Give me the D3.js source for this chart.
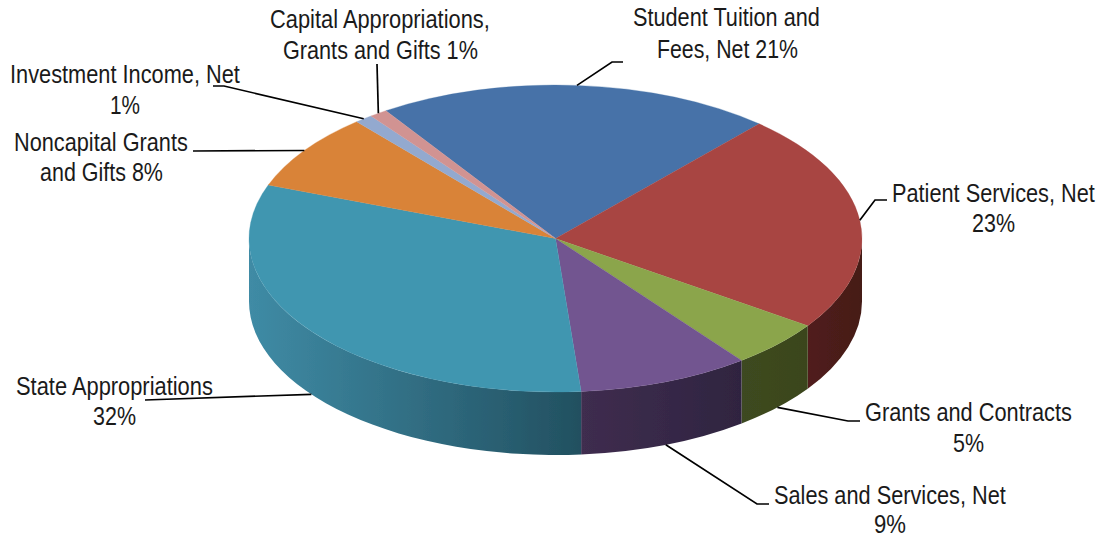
<!DOCTYPE html>
<html>
<head>
<meta charset="utf-8">
<script src="https://d3js.org/d3.v7.min.js"></script>
<style>
html, body { margin: 0; padding: 0; background: #fff; }
svg { display: block; }
text { font-family: "Liberation Sans", Arial, sans-serif; font-size: 25px; fill: #1a1a1a; }
</style>
</head>
<body>
<script>
// shares, clockwise (labels print them rounded)
var categories = ["Student Tuition and Fees, Net", "Patient Services, Net", "Grants and Contracts",
  "Sales and Services, Net", "State Appropriations", "Noncapital Grants and Gifts",
  "Investment Income, Net", "Capital Appropriations, Grants and Gifts"];
var values = [20.9, 23.05, 5, 9.05, 32, 8.1, 0.95, 0.95];
var labelLines = [
  ["Student Tuition and", "Fees, Net 21%"],
  ["Patient Services, Net", "23%"],
  ["Grants and Contracts", "5%"],
  ["Sales and Services, Net", "9%"],
  ["State Appropriations", "32%"],
  ["Noncapital Grants", "and Gifts 8%"],
  ["Investment Income, Net", "1%"],
  ["Capital Appropriations,", "Grants and Gifts 1%"]
];
var topColors = ["#4672a8", "#a84542", "#8ba54c", "#725490", "#4196b0", "#d98339", "#93a9cf", "#d19392"];
// wall shading, left and right end of each slice's wall
var wallColors = [null, ["#511f1b", "#451c18"], ["#3e4a20", "#3a451d"], ["#3f2d4f", "#2f2440"],
  ["#3f8ba5", "#225060"], null, null, null];

// label and leader layout, same order as categories
// each line: x, baseline, width. leader: bend points after the pie edge
var labelBoxes = [
  [[633, 26, 187], [657, 58, 141]],
  [[892, 202, 203], [972, 232, 43]],
  [[865, 421, 207], [953, 452, 31]],
  [[774, 504, 232], [874, 533, 32]],
  [[16, 395, 197], [93, 425, 43]],
  [[14, 151, 174], [40, 181, 123]],
  [[10, 83, 230], [110, 114, 30]],
  [[270, 28, 220], [283, 59, 195]]
];
var leaderBends = [
  [[612, 62], [623, 62]],
  [[875, 200], [887, 200]],
  [[848, 421], [860, 421]],
  [[757, 504], [769, 504]],
  [[145, 400]],
  [[193, 151]],
  [[224, 86], [213, 86]],
  [[377, 64]]
];

var width = 1102, height = 539;
var cx = 555.5, cy = 238.5, rx = 306.5, ry = 153.5, depth = 63;
var deg = Math.PI / 180;

var svg = d3.select("body").append("svg").attr("width", width).attr("height", height);
var defs = svg.append("defs");
defs.append("filter").attr("id", "soft")
  .attr("x", "-2%").attr("y", "-2%").attr("width", "104%").attr("height", "104%")
  .append("feGaussianBlur").attr("stdDeviation", 0.45);

var pie = d3.pie().sort(null).startAngle(-33.6 * deg).endAngle(326.4 * deg);
var slices = pie(values);

function px(a) { return cx + rx * Math.sin(a); }
function py(a) { return cy - ry * Math.cos(a); }

var pieG = svg.append("g").attr("filter", "url(#soft)");

// outer wall, only the part facing the viewer (90 to 270 degrees)
slices.forEach(function(s, i) {
  var a0 = Math.max(s.startAngle, 90 * deg), a1 = Math.min(s.endAngle, 270 * deg);
  if (a1 <= a0 || !wallColors[i]) return;
  var grad = defs.append("linearGradient").attr("id", "wall" + i)
    .attr("gradientUnits", "userSpaceOnUse")
    .attr("x1", Math.min(px(a0), px(a1))).attr("x2", Math.max(px(a0), px(a1)))
    .attr("y1", 0).attr("y2", 0);
  grad.append("stop").attr("offset", 0).attr("stop-color", wallColors[i][0]);
  grad.append("stop").attr("offset", 1).attr("stop-color", wallColors[i][1]);
  var d = "M" + px(a0) + "," + py(a0)
    + "A" + rx + "," + ry + " 0 0 1 " + px(a1) + "," + py(a1)
    + "L" + px(a1) + "," + (py(a1) + depth)
    + "A" + rx + "," + ry + " 0 0 0 " + px(a0) + "," + (py(a0) + depth) + "Z";
  pieG.append("path").attr("d", d).attr("fill", "url(#wall" + i + ")");
});

// top surface is a normal d3 arc squashed into an ellipse
var arc = d3.arc().innerRadius(0).outerRadius(rx);
pieG.append("g")
  .attr("transform", "translate(" + cx + "," + cy + ") scale(1," + (ry / rx) + ")")
  .selectAll("path").data(slices).enter().append("path")
  .attr("d", arc)
  .attr("fill", function(d, i) { return topColors[i]; })
  .attr("stroke", function(d, i) { return topColors[i]; })
  .attr("stroke-width", 0.4);

// leaders start on the pie edge at the middle of each slice
var line = d3.line();
slices.forEach(function(s, i) {
  var mid = (s.startAngle + s.endAngle) / 2;
  var front = mid > 90 * deg && mid < 270 * deg;
  var start = [px(mid), py(mid) + (front ? depth : 0)];
  svg.append("path")
    .attr("d", line([start].concat(leaderBends[i])))
    .attr("fill", "none").attr("stroke", "#000").attr("stroke-width", 1.7);
});

// the reference type is a narrow face, so squeeze each line to its measured width
labelLines.forEach(function(lines, i) {
  lines.forEach(function(t, j) {
    var b = labelBoxes[i][j];
    var label = svg.append("text").text(t);
    var k = b[2] / label.node().getComputedTextLength();
    label.attr("transform", "translate(" + b[0] + "," + b[1] + ") scale(" + k + ",1)");
  });
});
</script>
</body>
</html>
